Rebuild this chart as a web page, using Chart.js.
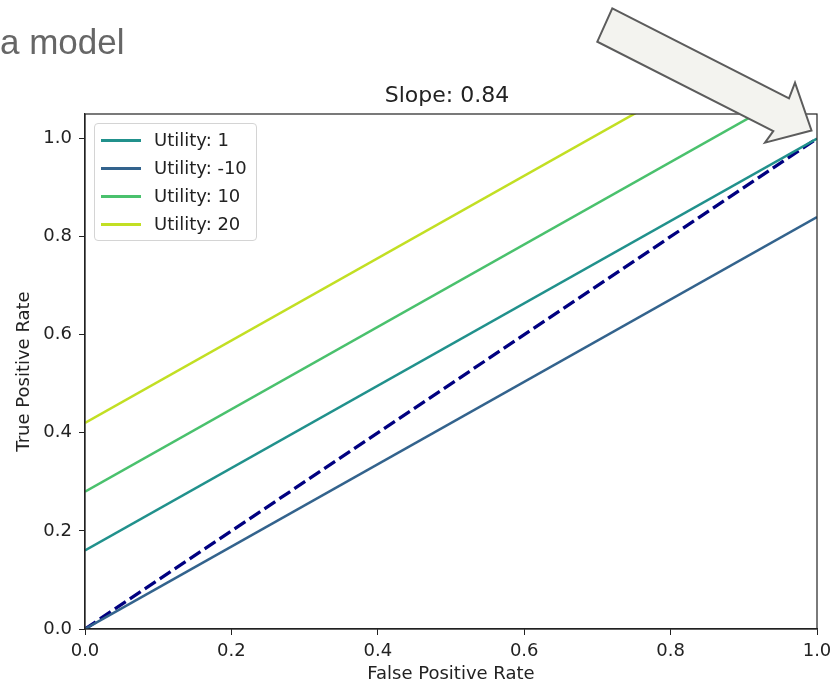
<!DOCTYPE html>
<html>
<head>
<meta charset="utf-8">
<script src="https://cdn.jsdelivr.net/npm/chart.js@4.4.0/dist/chart.umd.min.js"></script>
<style>
  body { margin: 0; background: #fff; }
  #wrap { position: relative; width: 833px; height: 684px; overflow: hidden; }
  #caption { position: absolute; left: 0px; top: 22px; font-family: "Liberation Sans", Arial, sans-serif; font-size: 35px; color: #666; white-space: nowrap; }
  #legend { position: absolute; left: 94px; top: 123px; width: 161px; height: 116px; border: 1px solid #d4d4d4; border-radius: 4px; background: rgba(255,255,255,0.8); font-family: "DejaVu Sans", sans-serif; font-size: 18px; color: #222; }
  .row { position: absolute; left: 0; height: 20px; }
  .swatch { position: absolute; left: 6px; top: 9px; width: 40px; height: 2.5px; }
  .label { position: absolute; left: 59px; top: 0px; line-height: 20px; white-space: nowrap; }
  #arrow { position: absolute; left: 0; top: 0; }
</style>
</head>
<body>
<div id="wrap">
  <div id="caption">a model</div>
  <canvas id="rocChart"></canvas>
  <div id="legend"></div>
  <svg id="arrow" width="833" height="684">
    <polygon points="612.3,8.3 789,98.3 795,82.7 811.5,130.5 765,142.7 773.3,131 597.3,41.7"
      fill="#f3f3ef" stroke="#5c5c5c" stroke-width="2" stroke-linejoin="miter"/>
  </svg>
</div>
<script>
// valores
const fpr = [0, 1];
const utilityLabels = ['Utility: 1', 'Utility: -10', 'Utility: 10', 'Utility: 20'];
const tprUtility1 = [0.16, 1.0];
const tprUtilityNeg10 = [0, 0.84];
const tprUtility10 = [0.28, 1.12];
const tprUtility20 = [0.42, 1.26];
const tprChance = [0, 1];
const xTicks = [0, 0.2, 0.4, 0.6, 0.8, 1.0];
const yTicks = [0, 0.2, 0.4, 0.6, 0.8, 1.0];
const chartTitle = 'Slope: 0.84';

const lineColors = ['#21918c', '#33638d', '#4ac16d', '#c2df23'];

function toPoints(ys) {
  return fpr.map((x, i) => ({ x: x, y: ys[i] }));
}

const seriesList = [tprUtility1, tprUtilityNeg10, tprUtility10, tprUtility20];

const datasets = seriesList.map((ys, i) => ({
  label: utilityLabels[i],
  data: toPoints(ys),
  borderColor: lineColors[i],
  borderWidth: 2.5,
  pointRadius: 0,
  fill: false
}));

datasets.push({
  label: 'chance',
  data: toPoints(tprChance),
  borderColor: '#000080',
  borderWidth: 3.3,
  borderDash: [13, 5],
  pointRadius: 0,
  fill: false
});

// caixa em volta da área do gráfico (spines de cima e da direita) + título
const frame = {
  id: 'frame',
  afterDatasetsDraw(chart) {
    const { ctx, chartArea } = chart;
    ctx.save();
    ctx.strokeStyle = '#222';
    ctx.lineWidth = 1.2;
    ctx.strokeRect(chartArea.left, chartArea.top, chartArea.right - chartArea.left, chartArea.bottom - chartArea.top);
    ctx.fillStyle = '#222';
    ctx.font = '22px "DejaVu Sans"';
    ctx.textAlign = 'center';
    ctx.textBaseline = 'alphabetic';
    ctx.fillText(chartTitle, (chartArea.left + chartArea.right) / 2 - 4, chartArea.top - 12);
    ctx.restore();
  }
};

const tickFont = { family: 'DejaVu Sans', size: 18 };

new Chart(document.getElementById('rocChart'), {
  type: 'line',
  data: { datasets: datasets },
  options: {
    responsive: true,
    maintainAspectRatio: false,
    animation: false,
    layout: { padding: { left: 0, right: 16, top: 114, bottom: 0 } },
    plugins: {
      legend: { display: false },
      tooltip: { enabled: false },
      title: { display: false }
    },
    scales: {
      x: {
        type: 'linear',
        min: 0,
        max: 1,
        afterFit(scale) {
          scale.height = 55;
          scale.paddingLeft = 0;
          scale.paddingRight = 0;
        },
        afterBuildTicks(scale) { scale.ticks = xTicks.map(v => ({ value: v })); },
        ticks: { color: '#222', font: tickFont, padding: 6, maxRotation: 0, callback: v => v.toFixed(1) },
        grid: { drawOnChartArea: false, drawTicks: true, tickLength: 6, tickColor: '#222' },
        border: { display: true, color: '#222', width: 1.2 },
        title: { display: true, text: 'False Positive Rate', color: '#222', font: tickFont, padding: { top: 0, bottom: -1 } }
      },
      y: {
        type: 'linear',
        min: 0,
        max: 1.05,
        afterFit(scale) {
          scale.width = 85;
          scale.paddingTop = 0;
          scale.paddingBottom = 0;
        },
        afterBuildTicks(scale) { scale.ticks = yTicks.map(v => ({ value: v })); },
        ticks: { color: '#222', font: tickFont, padding: 7, callback: v => v.toFixed(1) },
        grid: { drawOnChartArea: false, drawTicks: true, tickLength: 6, tickColor: '#222' },
        border: { display: true, color: '#222', width: 1.2 },
        title: { display: true, text: 'True Positive Rate', color: '#222', font: tickFont, padding: { top: 13.5, bottom: 0 } }
      }
    }
  },
  plugins: [frame]
});

// legenda dentro do gráfico, como no matplotlib
const legendBox = document.getElementById('legend');
utilityLabels.forEach((label, i) => {
  const row = document.createElement('div');
  row.className = 'row';
  row.style.top = (6 + i * 28) + 'px';
  const sw = document.createElement('div');
  sw.className = 'swatch';
  sw.style.background = lineColors[i];
  const txt = document.createElement('div');
  txt.className = 'label';
  txt.textContent = label;
  row.appendChild(sw);
  row.appendChild(txt);
  legendBox.appendChild(row);
});
</script>
</body>
</html>
